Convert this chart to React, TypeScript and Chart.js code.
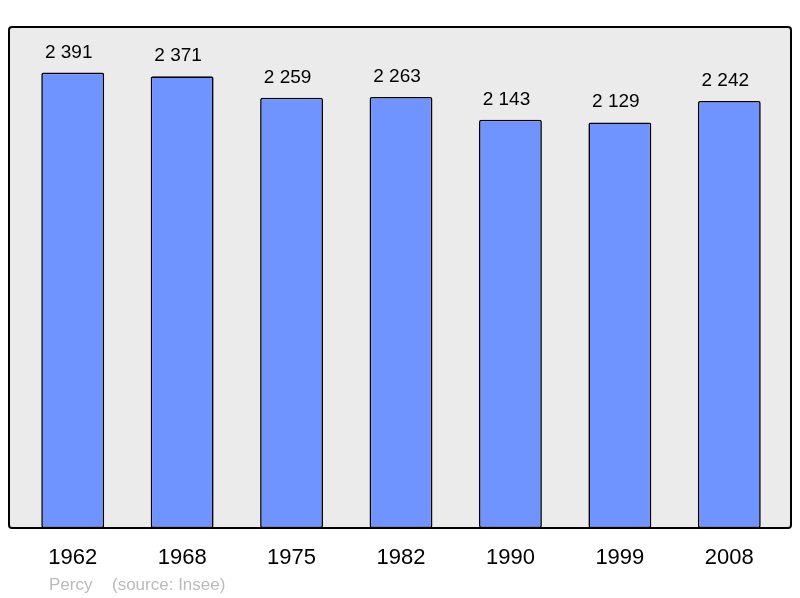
import React, { useEffect, useRef } from "react";
import { Chart, registerables } from "chart.js";

Chart.register(...registerables);

const years = ["1962", "1968", "1975", "1982", "1990", "1999", "2008"];
const population = [2391, 2371, 2259, 2263, 2143, 2129, 2242];
const commune = "Percy";
const source = "(source: Insee)";

const fmt = (v: number) => {
  const s = String(v);
  return s.length > 3 ? s.slice(0, s.length - 3) + " " + s.slice(-3) : s;
};

function framePath(ctx: CanvasRenderingContext2D) {
  const x = 9, y = 27, w = 782, h = 501, r = 3;
  ctx.beginPath();
  ctx.moveTo(x + r, y);
  ctx.lineTo(x + w - r, y);
  ctx.quadraticCurveTo(x + w, y, x + w, y + r);
  ctx.lineTo(x + w, y + h - r);
  ctx.quadraticCurveTo(x + w, y + h, x + w - r, y + h);
  ctx.lineTo(x + r, y + h);
  ctx.quadraticCurveTo(x, y + h, x, y + h - r);
  ctx.lineTo(x, y + r);
  ctx.quadraticCurveTo(x, y, x + r, y);
  ctx.closePath();
}

const framePlugin = {
  id: "frame",
  beforeDraw(chart: any) {
    const ctx = chart.ctx;
    ctx.save();
    framePath(ctx);
    ctx.fillStyle = "#ebebeb";
    ctx.fill();
    ctx.restore();
  },
  afterDatasetsDraw(chart: any) {
    const ctx = chart.ctx;
    ctx.save();
    framePath(ctx);
    ctx.lineWidth = 2;
    ctx.strokeStyle = "#000";
    ctx.stroke();

    // value labels
    const meta = chart.getDatasetMeta(0);
    ctx.fillStyle = "#000";
    ctx.font = "19px 'Liberation Sans', Arial, sans-serif";
    ctx.textAlign = "center";
    ctx.textBaseline = "alphabetic";
    meta.data.forEach((bar: any, i: number) => {
      ctx.fillText(fmt(population[i]), bar.x - 4, bar.y - 15);
    });

    // footer
    ctx.fillStyle = "#bbbbbb";
    ctx.font = "17px 'Liberation Sans', Arial, sans-serif";
    ctx.textAlign = "left";
    ctx.fillText(commune, 49, 590);
    ctx.fillText(source, 112, 590);
    ctx.restore();
  },
};

export default function App() {
  const ref = useRef<HTMLCanvasElement>(null);
  useEffect(() => {
    document.body.style.margin = "0";
    const chart = new Chart(ref.current!, {
      type: "bar",
      data: {
        labels: years,
        datasets: [
          {
            data: population,
            backgroundColor: "#7094ff",
            borderColor: "#000",
            borderWidth: 1.6,
            borderRadius: 2,
            borderSkipped: false,
            barPercentage: 0.575,
            categoryPercentage: 1,
          },
        ],
      },
      plugins: [framePlugin],
      options: {
        responsive: false,
        animation: false,
        layout: { padding: { top: 27, left: 18, right: 16, bottom: 0 } },
        plugins: {
          legend: { display: false },
          tooltip: { enabled: false },
          title: { display: false },
        },
        scales: {
          x: {
            grid: { display: false, drawTicks: false },
            border: { display: false },
            ticks: {
              color: "#000",
              font: { size: 22, family: "'Liberation Sans', Arial, sans-serif" },
              padding: 17,
            },
            afterFit(scale: any) {
              scale.height = 70;
            },
          },
          y: {
            display: false,
            min: 0,
            max: 2630,
          },
        },
      },
    });
    return () => chart.destroy();
  }, []);
  return <canvas ref={ref} width={800} height={598} style={{ display: "block" }} />;
}
